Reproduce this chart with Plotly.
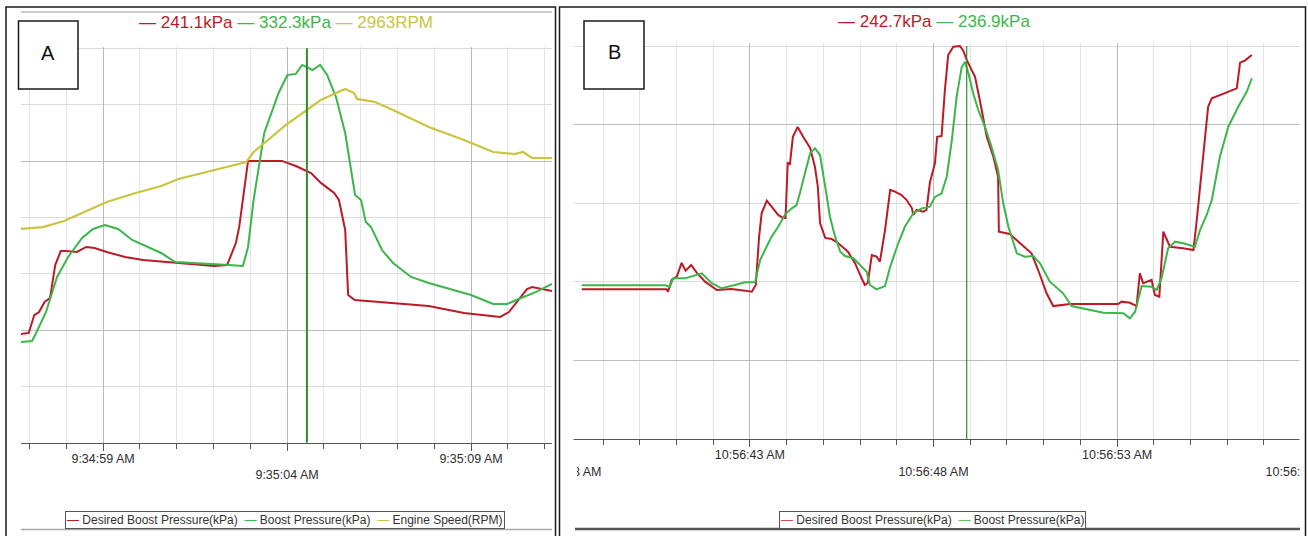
import plotly.graph_objects as go

# ---------------- Panel A : seconds after 9:34:00 AM ----------------
a_desired_t = [56.77, 56.98, 57.13, 57.26, 57.41, 57.56, 57.70, 57.85, 57.99, 58.29, 58.54, 58.77,
               59.10, 59.60, 60.09, 61.05, 62.02, 62.37, 62.61, 62.70, 62.86, 62.94, 63.86, 64.24,
               64.65, 64.92, 65.28, 65.41, 65.58, 65.66, 65.84, 66.88, 67.85, 68.81, 69.79, 70.03,
               70.52, 70.66, 71.20]
a_desired_kpa = [96.5, 97.4, 113.3, 116.0, 124.9, 128.4, 157.7, 170.1, 170.1, 169.3, 173.7, 172.8,
                 169.3, 164.8, 162.2, 159.5, 156.8, 157.7, 177.2, 191.5, 233.2, 250.1, 250.1, 245.6,
                 239.4, 230.6, 221.6, 215.4, 188.8, 131.1, 126.6, 124.0, 121.3, 115.1, 111.6, 116.0,
                 136.4, 138.2, 134.6]

a_boost_t = [56.77, 57.07, 57.18, 57.45, 57.75, 58.05, 58.43, 58.73, 59.05, 59.41, 59.79, 60.09,
             60.58, 60.96, 61.53, 62.42, 62.80, 62.94, 63.09, 63.18, 63.38, 63.77, 64.01, 64.24,
             64.41, 64.54, 64.69, 64.90, 65.09, 65.33, 65.58, 65.77, 65.85, 66.01, 66.14, 66.28,
             66.58, 66.88, 67.37, 67.85, 68.32, 69.00, 69.60, 69.98, 70.36, 70.77, 71.20]
a_boost_kpa = [89.4, 90.3, 97.4, 116.0, 147.1, 164.8, 181.7, 189.7, 193.2, 189.7, 179.9, 175.5,
               168.4, 160.4, 159.5, 157.7, 156.8, 173.7, 215.4, 233.2, 274.9, 310.4, 326.4, 327.3,
               335.3, 333.4, 330.8, 335.3, 326.4, 306.8, 274.9, 235.8, 219.8, 215.4, 195.9, 191.5,
               171.0, 159.5, 147.1, 141.7, 137.3, 131.1, 123.1, 123.1, 128.4, 133.8, 140.9]

a_rpm_t = [56.77, 57.37, 57.94, 58.62, 59.10, 59.89, 60.58, 61.05, 62.02, 62.89, 63.09, 63.48,
           63.97, 64.54, 64.92, 65.33, 65.58, 65.82, 65.90, 66.39, 66.88, 67.85, 68.81, 69.60,
           70.17, 70.41, 70.66, 71.20]
a_rpm = [1897, 1914, 1968, 2065, 2136, 2216, 2278, 2340, 2420, 2491, 2580, 2687,
         2820, 2953, 3042, 3104, 3139, 3104, 3051, 3024, 2953, 2802, 2687, 2580,
         2562, 2580, 2527, 2527]

a_cursor_t = 64.54
a_cursor_values = [241.1, 332.3, 2963]
a_tick_vals = [59, 64, 69]
a_tick_text = ["9:34:59 AM", "<br>9:35:04 AM", "9:35:09 AM"]

# ---------------- Panel B : seconds after 10:56:00 AM ----------------
b_desired_t = [38.42, 40.73, 40.77, 40.87, 41.01, 41.14, 41.25, 41.40, 41.55, 41.78, 42.10, 42.50,
               42.87, 43.05, 43.16, 43.25, 43.32, 43.46, 43.59, 43.77, 43.90, 43.97, 44.03, 44.09,
               44.17, 44.30, 44.45, 44.64, 44.77, 44.85, 44.91, 45.05, 45.23, 45.40, 45.67, 45.86,
               46.04, 46.13, 46.21, 46.27, 46.32, 46.45, 46.54, 46.68, 46.82, 46.95, 47.13, 47.27,
               47.41, 47.45, 47.54, 47.72, 47.81, 47.90, 47.99, 48.04, 48.10, 48.22, 48.31, 48.40,
               48.54, 48.72, 48.81, 48.90, 49.04, 49.13, 49.27, 49.45, 49.63, 49.76, 49.78, 50.08,
               50.36, 50.67, 50.85, 51.08, 51.26, 51.72, 52.44, 53.03, 53.12, 53.35, 53.53, 53.62,
               53.71, 53.94, 54.03, 54.15, 54.26, 54.44, 54.80, 55.08, 55.17, 55.35, 55.48, 55.58,
               55.89, 56.16, 56.26, 56.35, 56.48, 56.67]
b_desired_kpa = [95.3, 95.3, 93.8, 101.3, 103.4, 112.1, 107.2, 110.8, 105.9, 100.2, 94.9, 95.5,
                 94.5, 93.8, 98.1, 128.8, 143.8, 151.7, 147.9, 142.6, 140.7, 140.7, 175.6, 175.0,
                 192.3, 198.5, 192.3, 185.2, 173.3, 160.6, 137.5, 128.0, 127.3, 124.8, 119.2, 112.1,
                 102.5, 98.1, 99.4, 107.6, 117.1, 116.1, 112.9, 133.0, 158.5, 157.4, 155.3, 152.1,
                 147.0, 142.6, 145.8, 144.7, 145.8, 162.9, 171.2, 175.6, 192.3, 192.8, 222.0, 244.3,
                 249.6, 250.0, 247.0, 241.5, 234.7, 230.5, 214.6, 192.3, 179.6, 166.9, 132.0, 130.5,
                 124.6, 118.2, 107.6, 92.8, 84.7, 86.0, 86.0, 86.0, 87.5, 86.8, 84.7, 105.5,
                 99.2, 101.3, 91.7, 90.6, 132.0, 122.4, 121.4, 120.3, 139.4, 179.6, 211.4, 216.8,
                 219.9, 222.5, 223.1, 239.4, 240.7, 244.3]

b_boost_t = [38.42, 40.69, 40.82, 40.91, 41.23, 41.50, 41.69, 41.96, 42.23, 42.59, 42.87, 43.14,
             43.28, 43.41, 43.59, 43.77, 43.96, 44.14, 44.27, 44.36, 44.50, 44.64, 44.77, 44.91,
             45.05, 45.18, 45.32, 45.46, 45.59, 45.82, 46.00, 46.18, 46.27, 46.45, 46.68, 46.82,
             47.04, 47.22, 47.45, 47.68, 47.90, 48.04, 48.22, 48.36, 48.50, 48.63, 48.77, 48.86,
             48.95, 49.08, 49.22, 49.40, 49.58, 49.76, 49.90, 50.04, 50.27, 50.49, 50.72, 50.90,
             51.17, 51.53, 51.76, 52.17, 52.63, 53.17, 53.35, 53.49, 53.67, 53.94, 54.08, 54.21,
             54.39, 54.58, 54.80, 55.12, 55.26, 55.44, 55.58, 55.80, 56.03, 56.30, 56.53, 56.67]
b_boost_kpa = [97.9, 97.9, 97.0, 102.3, 102.3, 104.4, 105.5, 99.2, 96.0, 98.1, 99.8, 99.8,
               114.0, 120.3, 128.8, 135.1, 143.0, 146.8, 148.9, 156.4, 169.1, 181.8, 185.0, 180.7,
               160.6, 141.5, 128.8, 119.2, 116.5, 115.1, 110.8, 106.5, 98.1, 95.3, 97.4, 109.7,
               124.6, 135.1, 143.7, 146.8, 147.9, 154.1, 156.4, 166.9, 190.2, 217.8, 236.8, 240.0,
               232.6, 219.9, 209.3, 198.7, 186.0, 171.2, 150.0, 135.1, 118.2, 116.1, 116.5, 111.9,
               100.2, 92.8, 84.7, 82.6, 80.5, 80.1, 76.9, 81.1, 97.4, 97.0, 94.9, 102.3,
               121.4, 125.6, 124.6, 122.4, 133.0, 142.6, 152.1, 179.6, 198.7, 211.4, 220.9, 229.5]

b_cursor_t = 48.904
b_cursor_values = [242.7, 236.9]
b_tick_vals = [38, 43, 48, 53, 58]
b_tick_text = ["<br>10:56:38 AM", "10:56:43 AM", "<br>10:56:48 AM", "10:56:53 AM", "<br>10:56:58 AM"]

# ---------------- styling ----------------
W, H = 1308, 536
RED = "#bd1a28"
GREEN = "#3cb64a"
YELLOW = "#c9c53e"
CURSOR = "#2f8f2f"
FONT = "Liberation Sans, Arial, sans-serif"


def px(x):
    return x / W


def py(y):
    return 1 - y / H


fig = go.Figure()
fig.add_trace(go.Scatter(x=a_rpm_t, y=a_rpm, mode="lines", name="Engine Speed(RPM)",
                         line=dict(color=YELLOW, width=2.2), xaxis="x", yaxis="y2"))
fig.add_trace(go.Scatter(x=a_desired_t, y=a_desired_kpa, mode="lines", name="Desired Boost Pressure(kPa)",
                         line=dict(color=RED, width=2), xaxis="x", yaxis="y"))
fig.add_trace(go.Scatter(x=a_boost_t, y=a_boost_kpa, mode="lines", name="Boost Pressure(kPa)",
                         line=dict(color=GREEN, width=2), xaxis="x", yaxis="y"))
fig.add_trace(go.Scatter(x=b_desired_t, y=b_desired_kpa, mode="lines", name="Desired Boost Pressure(kPa)",
                         line=dict(color=RED, width=2), xaxis="x2", yaxis="y3"))
fig.add_trace(go.Scatter(x=b_boost_t, y=b_boost_kpa, mode="lines", name="Boost Pressure(kPa)",
                         line=dict(color=GREEN, width=2), xaxis="x2", yaxis="y3"))


def xaxis_style(domain, rng, tickvals, ticktext):
    return dict(domain=domain, range=rng, tickmode="array", tickvals=tickvals, ticktext=ticktext,
                showgrid=True, gridcolor="#b9b9b9", gridwidth=1, zeroline=False,
                showline=True, linecolor="#555555", linewidth=1,
                ticks="outside", ticklen=7, tickcolor="#555555", tickwidth=1,
                tickfont=dict(family=FONT, size=12.5, color="#2e2e2e"),
                ticklabelstandoff=-3,
                ticklabeloverflow="allow", automargin=False, fixedrange=True,
                minor=dict(dtick=1, tick0=0, ticks="outside", ticklen=5, tickcolor="#555555",
                           showgrid=True, gridcolor="#e4e4e4", gridwidth=1))


def yaxis_style(domain, rng, major, anchor):
    return dict(domain=domain, range=rng, anchor=anchor, tickmode="array", tickvals=major,
                showticklabels=False, ticks="", showgrid=True, gridcolor="#bcbcbc", gridwidth=1,
                zeroline=False, showline=False, automargin=False, fixedrange=True,
                minor=dict(dtick=50, tick0=0, showgrid=True, gridcolor="#dcdcdc", gridwidth=1))


a_top = 442.7 - 351 * 1.1267
b_top = 439.3 - 252 * 1.5732

layout = dict(
    width=W, height=H, autosize=False, template="none",
    margin=dict(l=0, r=0, t=0, b=0, pad=0),
    paper_bgcolor="white", plot_bgcolor="white", showlegend=False,
    xaxis=dict(anchor="y", **xaxis_style([px(21), px(552)], [56.77, 71.2], a_tick_vals, a_tick_text)),
    yaxis=yaxis_style([py(442.7), py(a_top)], [0, 351], [100, 250], "x"),
    yaxis2=dict(overlaying="y", anchor="x", range=[0, 3510], visible=False, showgrid=False,
                fixedrange=True),
    xaxis2=dict(anchor="y3", **xaxis_style([px(564.5), px(1302.5)], [37.95, 58.05], b_tick_vals, b_tick_text)),
    yaxis3=yaxis_style([py(439.3), py(b_top)], [0, 252], [50, 200], "x2"),
)
fig.update_layout(**layout)

shapes = []


def prect(x0, y0, x1, y1, line=None, fill=None):
    d = dict(type="rect", xref="paper", yref="paper", x0=px(x0), x1=px(x1), y0=py(y1), y1=py(y0),
             layer="above")
    d["line"] = line if line else dict(width=0)
    if fill:
        d["fillcolor"] = fill
    return d


def pline(x0, y0, x1, y1, color, width):
    return dict(type="line", xref="paper", yref="paper", x0=px(x0), x1=px(x1), y0=py(y0), y1=py(y1),
                line=dict(color=color, width=width), layer="above")


# white masks reproducing the clipped screenshot edges
shapes.append(prect(560.5, 38, 573.5, 448, fill="white"))
shapes.append(prect(1299.5, 38, 1308, 448, fill="white"))
shapes.append(prect(520, 463, 577, 494, fill="white"))
shapes.append(prect(1301, 463, 1308, 494, fill="white"))
# cursors
shapes.append(dict(type="line", xref="x", yref="y", x0=a_cursor_t, x1=a_cursor_t, y0=0, y1=350,
                   line=dict(color=CURSOR, width=2), layer="above"))
shapes.append(dict(type="line", xref="x2", yref="y3", x0=b_cursor_t, x1=b_cursor_t, y0=0, y1=250,
                   line=dict(color=CURSOR, width=1.2), layer="above"))
# decorative lines
shapes.append(pline(21, 12, 552, 12, "#cdcdcd", 2))
shapes.append(pline(21, 529.5, 552, 529.5, "#a8a8a8", 1.5))
shapes.append(pline(575, 529, 1300, 529, "#555555", 2.5))
# panel borders
shapes.append(prect(6, 7, 555.5, 545, line=dict(color="#1a1a1a", width=1.5)))
shapes.append(prect(559.5, 7, 1305.5, 545, line=dict(color="#1a1a1a", width=1.5)))
# letter boxes
shapes.append(prect(18.5, 21, 78, 89, line=dict(color="#1a1a1a", width=1.5), fill="white"))
shapes.append(prect(584, 21, 644, 89, line=dict(color="#1a1a1a", width=1.5), fill="white"))
fig.update_layout(shapes=shapes)


def span(color, text):
    return f"<span style='color:{color}'>{text}</span>"


title_a = " ".join([span(RED, f"— {a_cursor_values[0]:.1f}kPa"),
                    span(GREEN, f"— {a_cursor_values[1]:.1f}kPa"),
                    span(YELLOW, f"— {a_cursor_values[2]:d}RPM")])
title_b = " ".join([span(RED, f"— {b_cursor_values[0]:.1f}kPa"),
                    span(GREEN, f"— {b_cursor_values[1]:.1f}kPa")])

legend_a = (span(RED, "—") + " Desired Boost Pressure(kPa)  " + span(GREEN, "—") +
            " Boost Pressure(kPa)  " + span(YELLOW, "—") + " Engine Speed(RPM)")
legend_b = (span("#d24b55", "—") + " Desired Boost Pressure(kPa)  " + span("#5cc55c", "—") +
            " Boost Pressure(kPa)")


def ann(x, y, text, size, color="#333333", **kw):
    return dict(xref="paper", yref="paper", x=px(x), y=py(y), text=text, showarrow=False,
                xanchor="center", yanchor="middle", font=dict(family=FONT, size=size, color=color), **kw)


fig.update_layout(annotations=[
    ann(286, 23, title_a, 17),
    ann(934, 22, title_b, 17),
    ann(48, 53, "A", 20, "#111111"),
    ann(614, 52, "B", 20, "#111111"),
    ann(284.5, 520, legend_a, 12, bordercolor="#555555", borderwidth=1, borderpad=1, bgcolor="white"),
    ann(932.5, 520, legend_b, 12, bordercolor="#555555", borderwidth=1, borderpad=1, bgcolor="white"),
])

fig.write_html("out.html",
               config={"displayModeBar": False, "staticPlot": True},
               post_script="document.body.style.margin='0px';"
                           "document.documentElement.style.overflow='hidden';"
                           "document.body.style.overflow='hidden';")
